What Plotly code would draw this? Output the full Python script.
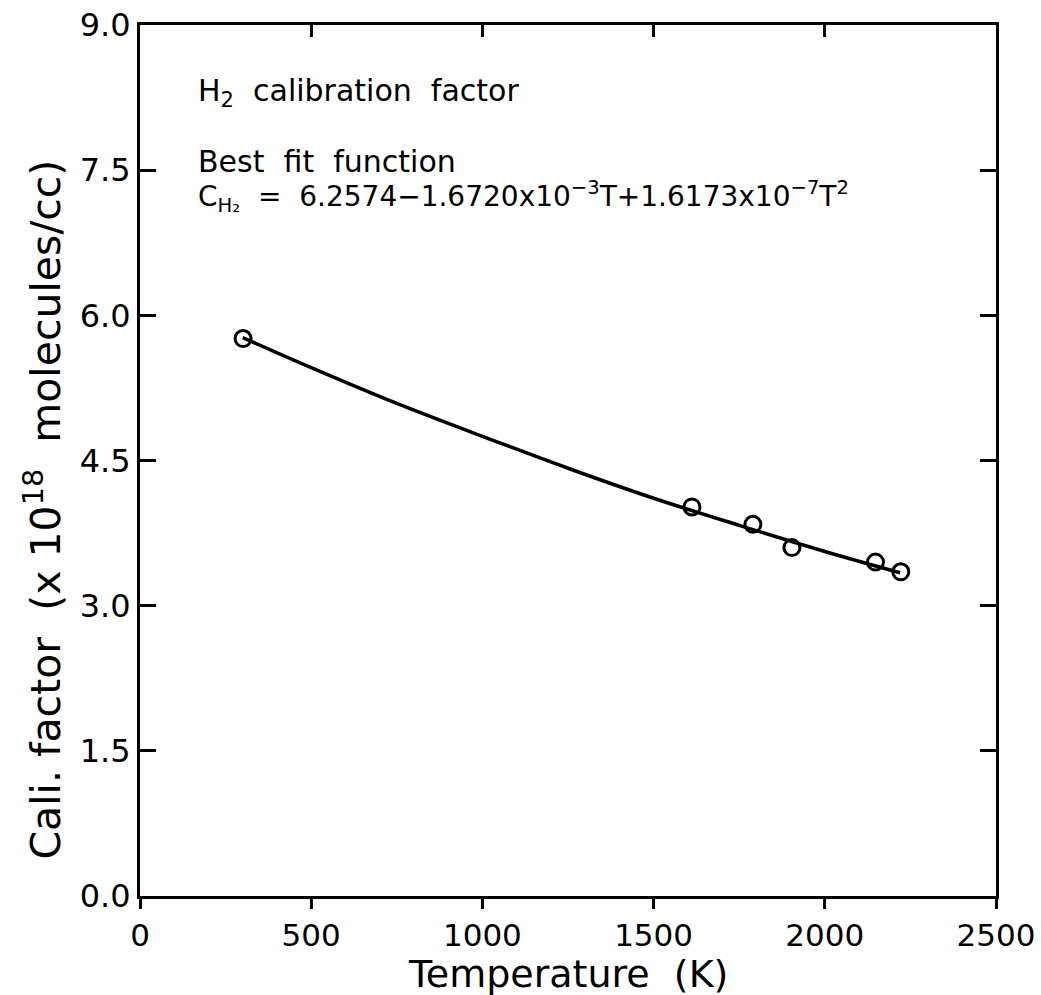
import plotly.graph_objects as go

# Measured data points (Temperature K, calibration factor x1e18 molecules/cc)
T_data = [301, 1612, 1790, 1904, 2148, 2222]
C_data = [5.76, 4.02, 3.84, 3.60, 3.45, 3.35]

# Best-fit curve
T_fit = [300, 500, 750, 1000, 1250, 1500, 1750, 2000, 2220]
C_fit = [5.77, 5.46, 5.09, 4.75, 4.42, 4.11, 3.83, 3.56, 3.34]

x_ticks = [0, 500, 1000, 1500, 2000, 2500]
y_ticks = [0.0, 1.5, 3.0, 4.5, 6.0, 7.5, 9.0]
y_tick_text = ["0.0", "1.5", "3.0", "4.5", "6.0", "7.5", "9.0"]

FONT = "DejaVu Sans"

fig = go.Figure()
fig.add_trace(go.Scatter(x=T_fit, y=C_fit, mode="lines", line=dict(color="black", width=3.5, shape="spline"),
                         showlegend=False, hoverinfo="skip"))
fig.add_trace(go.Scatter(x=T_data, y=C_data, mode="markers",
                         marker=dict(symbol="circle-open", size=16, color="black", line=dict(width=3, color="black")),
                         showlegend=False))
# dummy trace for the top axis
fig.add_trace(go.Scatter(x=T_data, y=C_data, xaxis="x2", mode="markers", marker=dict(opacity=0),
                         showlegend=False, hoverinfo="skip"))

fig.update_layout(
    width=1041, height=995,
    margin=dict(l=140, r=45, t=25, b=99),
    paper_bgcolor="white", plot_bgcolor="white",
    font=dict(family=FONT, color="black"),
    xaxis=dict(range=[0, 2500], tickvals=x_ticks, ticks="outside", ticklen=10, tickwidth=2.5,
               tickcolor="black", showline=True, linecolor="black", linewidth=3, mirror=False,
               showgrid=False, zeroline=False, tickfont=dict(size=31, family=FONT), automargin=False),
    xaxis2=dict(range=[0, 2500], overlaying="x", side="top", tickvals=x_ticks, ticks="inside",
                ticklen=12, tickwidth=2.5, tickcolor="black", showticklabels=False, showline=True,
                linecolor="black", linewidth=3, showgrid=False, zeroline=False, automargin=False),
    yaxis=dict(range=[0, 9], tickvals=y_ticks, ticktext=y_tick_text, ticks="inside", ticklen=16,
               tickwidth=2.5, tickcolor="black", showline=True, linecolor="black", linewidth=3,
               mirror="ticks", showgrid=False, zeroline=False, tickfont=dict(size=32, family=FONT),
               automargin=False),
    annotations=[
        dict(x=0.5, y=-0.09, xref="paper", yref="paper", xanchor="center", yanchor="middle",
             text="Temperature  (K)", showarrow=False, font=dict(size=38, family=FONT)),
        dict(x=-0.113, y=0.444, xref="paper", yref="paper", xanchor="center", yanchor="middle",
             text="Cali. factor  (x 10<sup>18</sup>  molecules/cc)", textangle=-90, showarrow=False,
             font=dict(size=41, family=FONT)),
        dict(x=0.065, y=0.922, xref="paper", yref="paper", xanchor="left", yanchor="middle",
             text="H<sub>2</sub>  calibration  factor", showarrow=False, font=dict(size=30, family=FONT)),
        dict(x=0.065, y=0.843, xref="paper", yref="paper", xanchor="left", yanchor="middle",
             text="Best  fit  function", showarrow=False, font=dict(size=30, family=FONT)),
        dict(x=0.065, y=0.803, xref="paper", yref="paper", xanchor="left", yanchor="middle",
             text="C<sub>H₂</sub>  =  6.2574−1.6720x10<sup>−3</sup>T+1.6173x10<sup>−7</sup>T<sup>2</sup>",
             showarrow=False, font=dict(size=28, family=FONT)),
    ],
)

fig.write_html("out.html")
